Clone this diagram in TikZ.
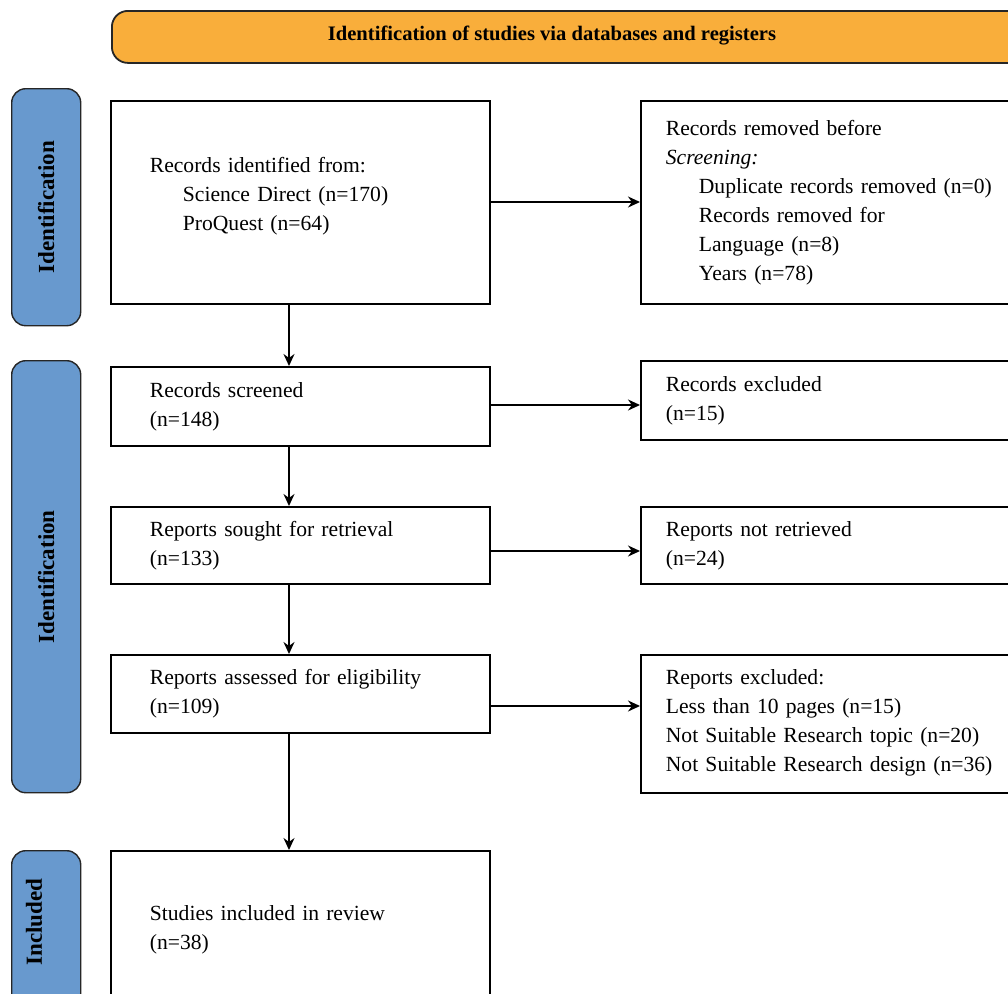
\documentclass[tikz,border=0pt]{standalone}
\usepackage{fontspec}
\setmainfont{Liberation Serif}
\usetikzlibrary{arrows.meta,positioning,calc}
\definecolor{prorange}{HTML}{F9AE3B}
\definecolor{prblue}{HTML}{6899CE}

\begin{document}
\begin{tikzpicture}[x=0.5pt, y=-0.5pt,
  box/.style={draw, line width=0.9pt, anchor=north west, align=left, inner ysep=2pt, font=\fontsize{10.8}{14.5}\selectfont},
  leftbox/.style={box, text width=150.5pt, inner xsep=19.5pt},
  rightbox/.style={box, text width=190pt, inner xsep=12.5pt},
  phase/.style={draw=black!85, line width=0.7pt, fill=prblue, rounded corners=7pt, anchor=north west, minimum width=34.5pt},
  phasetext/.style={rotate=90, font=\bfseries\fontsize{11.5}{14}\selectfont},
  arr/.style={-{Stealth[length=6pt, width=5.5pt]}, line width=0.8pt},
]
  \useasboundingbox (0,0) rectangle (1008,993);
  \clip (0,0) rectangle (1008,993);

  % header
  \node[draw=black!85, line width=0.9pt, fill=prorange, rounded corners=8pt, anchor=north west,
        minimum width=460pt, minimum height=26pt] (head) at (111,10) {};
  \node[font=\bfseries\fontsize{10.3}{13}\selectfont] (headtext) at (552,36) {Identification of studies via databases and registers};

  % phase labels
  \node[phase, minimum height=118.5pt] (phid) at (11,88) {};
  \node[phasetext] (phidt) at (phid.center) {Identification};
  \node[phase, minimum height=216pt] (phsc) at (11,360) {};
  \node[phasetext] (phsct) at (phsc.center) {Identification};
  \node[phase, minimum height=90pt] (phin) at (11,850) {};
  \node[phasetext] (phint) at (34,922) {Included};

  % main column
  \node[leftbox, minimum height=101.5pt] (ident) at (110,100) {Records identified from:\\
    \hspace*{16.5pt}Science Direct (n=170)\\ \hspace*{16.5pt}ProQuest (n=64)\\[-6pt]\mbox{}};
  \node[leftbox, minimum height=39.5pt] (screen) at (110,366) {Records screened\\(n=148)};
  \node[leftbox, minimum height=38.5pt] (sought) at (110,506) {Reports sought for retrieval\\(n=133)};
  \node[leftbox, minimum height=39pt] (assess) at (110,654) {Reports assessed for eligibility\\(n=109)};
  \node[leftbox, minimum height=79pt] (incl) at (110,850) {Studies included in review\\(n=38)};

  % side column
  \node[rightbox, minimum height=101.5pt] (removed) at (640,100) {Records removed before\\\textit{Screening:}\\
    \hspace*{16.5pt}Duplicate records removed (n=0)\\ \hspace*{16.5pt}Records removed for\\
    \hspace*{16.5pt}Language (n=8)\\ \hspace*{16.5pt}Years (n=78)};
  \node[rightbox, minimum height=39.5pt] (excl) at (640,360) {Records excluded\\(n=15)};
  \node[rightbox, minimum height=38.5pt] (notret) at (640,506) {Reports not retrieved\\(n=24)};
  \node[rightbox, minimum height=69pt] (rexcl) at (640,654) {Reports excluded:\\Less than 10 pages (n=15)\\
    Not Suitable Research topic (n=20)\\Not Suitable Research design (n=36)\\[-11.5pt]\mbox{}};

  % arrows
  \coordinate (spine) at (289,0);
  \draw[arr] (ident.south -| spine) -- (screen.north -| spine);
  \draw[arr] (screen.south -| spine) -- (sought.north -| spine);
  \draw[arr] (sought.south -| spine) -- (assess.north -| spine);
  \draw[arr] (assess.south -| spine) -- (incl.north -| spine);

  \draw[arr] (ident.east |- 0,202) -- (removed.west |- 0,202);
  \draw[arr] (screen.east |- 0,405) -- (excl.west |- 0,405);
  \draw[arr] (sought.east |- 0,551) -- (notret.west |- 0,551);
  \draw[arr] (assess.east |- 0,706) -- (rexcl.west |- 0,706);
\end{tikzpicture}
\end{document}
